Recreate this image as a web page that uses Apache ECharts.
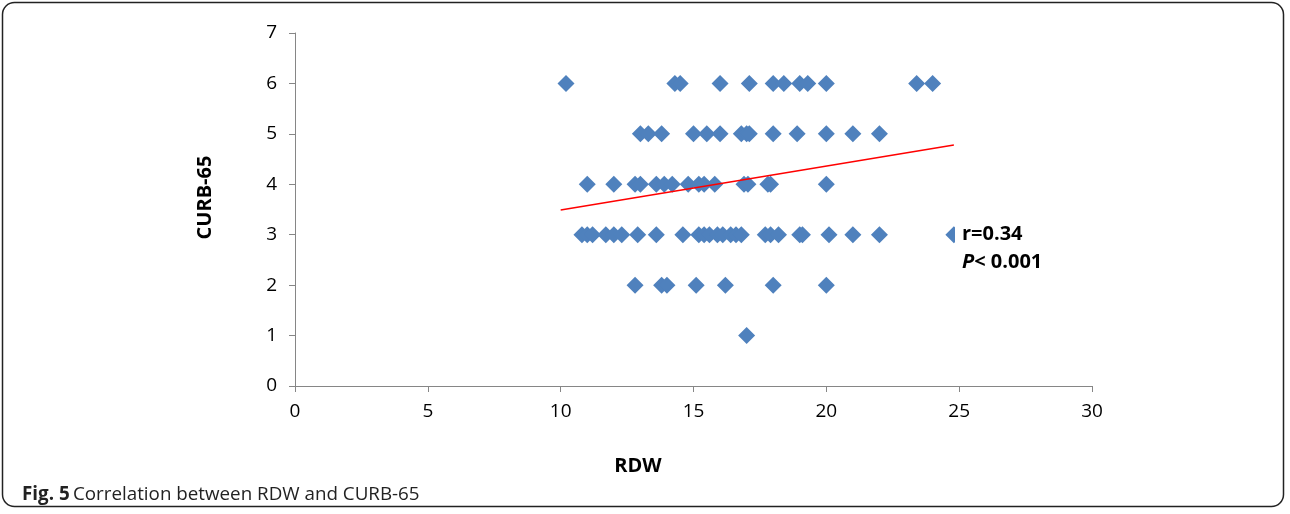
<!DOCTYPE html>
<html>
<head>
<meta charset="utf-8">
<script src="https://cdn.jsdelivr.net/npm/echarts@6/dist/echarts.min.js"></script>
<style>
html,body{margin:0;padding:0;background:#fff;}
#chart{width:1290px;height:514px;}
</style>
</head>
<body>
<div id="chart"></div>
<script>
// RDW values grouped by CURB-65 score
const rdwScore6 = [10.2, 14.3, 14.5, 16.0, 17.1, 18.0, 18.4, 19.0, 19.3, 20.0, 23.4, 24.0];
const rdwScore5 = [13.0, 13.3, 13.8, 15.0, 15.5, 16.0, 16.8, 17.0, 17.1, 18.0, 18.9, 20.0, 21.0, 22.0];
const rdwScore4 = [11.0, 12.0, 12.8, 13.0, 13.6, 13.9, 14.2, 14.8, 15.2, 15.4, 15.8, 16.9, 17.05, 17.8, 17.9, 20.0];
const rdwScore3 = [10.8, 11.0, 11.2, 11.7, 12.0, 12.3, 12.9, 13.6, 14.6, 15.2, 15.4, 15.6, 15.9, 16.1, 16.4, 16.6, 16.8, 17.7, 17.9, 18.2, 19.0, 19.1, 20.1, 21.0, 22.0, 24.8];
const rdwScore2 = [12.8, 13.8, 14.0, 15.1, 16.2, 18.0, 20.0];
const rdwScore1 = [17.0];
const curbScores = [6, 5, 4, 3, 2, 1];
// linear trend line end points (RDW, CURB-65)
const trendRdw = [10.0, 24.8];
const trendCurb = [3.49, 4.78];
const xTicks = [0, 5, 10, 15, 20, 25, 30];
const yTicks = [0, 1, 2, 3, 4, 5, 6, 7];
const statR = 'r=0.34';
const statP = '< 0.001';

const groups = [rdwScore6, rdwScore5, rdwScore4, rdwScore3, rdwScore2, rdwScore1];
const points = [];
groups.forEach((g, i) => g.forEach(x => points.push([x, curbScores[i]])));
const trendData = trendRdw.map((x, i) => [x, trendCurb[i]]);

const font = '"Open Sans", "Noto Sans", sans-serif';
const axisGray = '#868686';

const chart = echarts.init(document.getElementById('chart'), null, {renderer: 'canvas'});
chart.setOption({
  animation: false,
  backgroundColor: '#fff',
  grid: {left: 295, right: 198, top: 33, bottom: 128, containLabel: false},
  xAxis: {
    type: 'value', min: xTicks[0], max: xTicks[xTicks.length - 1], interval: 5,
    name: 'RDW', nameLocation: 'middle', nameGap: 70,
    nameTextStyle: {fontFamily: font, fontWeight: 'bold', fontSize: 20, color: '#000', padding: [0, 111, 0, 0]},
    axisLine: {show: true, lineStyle: {color: axisGray, width: 1}},
    axisTick: {show: true, length: 6, lineStyle: {color: axisGray}},
    axisLabel: {fontFamily: font, fontSize: 19, color: '#000', margin: 16},
    splitLine: {show: false}
  },
  yAxis: {
    type: 'value', min: yTicks[0], max: yTicks[yTicks.length - 1], interval: 1,
    name: 'CURB-65', nameLocation: 'middle', nameGap: 80, nameRotate: 90,
    nameTextStyle: {fontFamily: font, fontWeight: 'bold', fontSize: 20, color: '#000', padding: [0, 0, 0, 24]},
    axisLine: {show: true, lineStyle: {color: axisGray, width: 1}},
    axisTick: {show: true, length: 6, lineStyle: {color: axisGray}},
    axisLabel: {fontFamily: font, fontSize: 19, color: '#000', margin: 18},
    splitLine: {show: false}
  },
  series: [
    {
      type: 'scatter', data: points, symbol: 'diamond', symbolSize: [17, 17],
      itemStyle: {color: '#4F81BD', opacity: 1}, z: 3
    },
    {
      type: 'line', data: trendData, showSymbol: false, symbol: 'none',
      lineStyle: {color: '#FF0000', width: 1.5}, z: 4
    }
  ],
  graphic: [
    {
      type: 'rect', z: 100, left: 0, top: 0,
      shape: {x: 7.5, y: 9.5, width: 1281, height: 504, r: 12},
      style: {fill: null, stroke: '#222', lineWidth: 1.5}
    },
    {
      type: 'rect', z: 90, shape: {x: 955, y: 220, width: 110, height: 58},
      style: {fill: '#fff'}
    },
    {
      type: 'text', z: 95, x: 962, y: 234,
      style: {text: statR, font: 'bold 20px ' + font, fill: '#000', verticalAlign: 'middle'}
    },
    {
      type: 'text', z: 95, x: 962, y: 262,
      style: {
        text: '{i|P}{b|' + statP + '}',
        rich: {
          i: {fontFamily: font, fontWeight: 'bold', fontStyle: 'italic', fontSize: 20, fill: '#000'},
          b: {fontFamily: font, fontWeight: 'bold', fontSize: 20, fill: '#000'}
        },
        verticalAlign: 'middle'
      }
    },
    {
      type: 'text', z: 95, x: 22, y: 495,
      style: {
        text: '{b|Fig. 5} {n|Correlation between RDW and CURB-65}',
        rich: {
          b: {fontFamily: font, fontWeight: 'bold', fontSize: 18.8, fill: '#222'},
          n: {fontFamily: font, fontSize: 18.8, fill: '#222'}
        },
        verticalAlign: 'middle'
      }
    }
  ]
});
</script>
</body>
</html>
